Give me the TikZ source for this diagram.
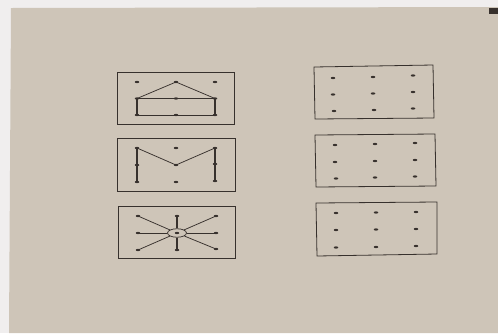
\documentclass[tikz,border=0pt]{standalone}
\usetikzlibrary{shapes.geometric}
\definecolor{paper}{RGB}{206,197,184}
\definecolor{wall}{RGB}{240,238,238}
\definecolor{ink}{RGB}{55,49,45}
\tikzset{
  pt/.style={ellipse, fill=ink, inner sep=0pt, minimum width=4.5pt, minimum height=2.3pt},
  frame/.style={draw=ink, line width=0.8pt},
  ln/.style={draw=ink, line width=0.75pt},
  bar/.style={draw=ink, line width=2.2pt},
}
\begin{document}
\begin{tikzpicture}[x=1pt,y=-1pt]
\useasboundingbox (0,0) rectangle (498,333);
\fill[wall] (0,0) rectangle (498,333);
\fill[paper] (11,8) -- (498,7) -- (498,333) -- (9,333) -- cycle;
\fill[ink] (489,8) rectangle (498,14);

% left boxes
\draw[frame] (117,72) rectangle (234,124);
\draw[frame] (117,138) rectangle (235,191);
\draw[frame] (118,206) rectangle (235,258);
% right boxes (slightly tilted)
\draw[frame] (314,67) -- (433,65) -- (434,118) -- (315,119) -- cycle;
\draw[frame] (315,135) -- (435,134) -- (436,186) -- (316,187) -- cycle;
\draw[frame] (316,203) -- (437,202) -- (437,254) -- (317,256) -- cycle;

% box 1: house
\node[pt] (h11) at (137,82) {};
\node[pt] (h12) at (176,82) {};
\node[pt] (h13) at (215,82) {};
\node[pt] (h21) at (137,98.5) {};
\node[pt] (h22) at (176,98.5) {};
\node[pt] (h23) at (215,98.5) {};
\node[pt] (h31) at (137,115) {};
\node[pt] (h32) at (176,115) {};
\node[pt] (h33) at (215,115) {};
\draw[ln] (h21.center) -- (h12.center) -- (h23.center);
\draw[ln] (h21.center) -- (h23.center);
\draw[ln] (h31.center) -- (h33.center);
\draw[bar] (h21.center) -- (h31.center);
\draw[bar] (h23.center) -- (h33.center);

% box 2: M
\node[pt] (m11) at (137,148) {};
\node[pt] (m12) at (176,148) {};
\node[pt] (m13) at (215,148) {};
\node[pt] (m21) at (137,165) {};
\node[pt] (m22) at (176,165) {};
\node[pt] (m23) at (215,164) {};
\node[pt] (m31) at (137,182) {};
\node[pt] (m32) at (176,182) {};
\node[pt] (m33) at (215,181) {};
\draw[bar] (m11.center) -- (m31.center);
\draw[bar] (m13.center) -- (m33.center);
\draw[ln] (m11.center) -- (m22.center) -- (m13.center);

% box 3: star
\node[pt] (s11) at (138,216) {};
\node[pt] (s12) at (177,216) {};
\node[pt] (s13) at (216,216) {};
\node[pt] (s21) at (138,233) {};
\node[ellipse, draw=ink, line width=0.75pt, minimum width=19pt, minimum height=8.5pt, inner sep=0pt] (s22) at (177,233) {};
\node[pt] at (177,233) {};
\node[pt] (s23) at (216,233) {};
\node[pt] (s31) at (138,250) {};
\node[pt] (s32) at (177,250) {};
\node[pt] (s33) at (216,249) {};
\foreach \n in {s11,s13,s21,s23,s31,s33} \draw[ln] (s22) -- (\n.center);
\draw[ln, line width=1.2pt] (s22) -- (s12.center);
\draw[ln, line width=1.2pt] (s22) -- (s32.center);

% right grids
\node[pt] (a11) at (333,78) {};
\node[pt] (a12) at (373,77) {};
\node[pt] (a13) at (413,75.5) {};
\node[pt] (a21) at (333,94.5) {};
\node[pt] (a22) at (373,93.5) {};
\node[pt] (a23) at (413,92) {};
\node[pt] (a31) at (334,111) {};
\node[pt] (a32) at (374,110) {};
\node[pt] (a33) at (413,108.5) {};

\node[pt] (b11) at (335,145) {};
\node[pt] (b12) at (375,144) {};
\node[pt] (b13) at (415,143) {};
\node[pt] (b21) at (335,162) {};
\node[pt] (b22) at (375,161) {};
\node[pt] (b23) at (415,160) {};
\node[pt] (b31) at (336,178.5) {};
\node[pt] (b32) at (375,177.5) {};
\node[pt] (b33) at (415,176.5) {};

\node[pt] (c11) at (336,213) {};
\node[pt] (c12) at (376,212.5) {};
\node[pt] (c13) at (416,212) {};
\node[pt] (c21) at (336,230) {};
\node[pt] (c22) at (376,229.5) {};
\node[pt] (c23) at (416,229) {};
\node[pt] (c31) at (336,247.5) {};
\node[pt] (c32) at (376,247) {};
\node[pt] (c33) at (416,246) {};
\end{tikzpicture}
\end{document}
